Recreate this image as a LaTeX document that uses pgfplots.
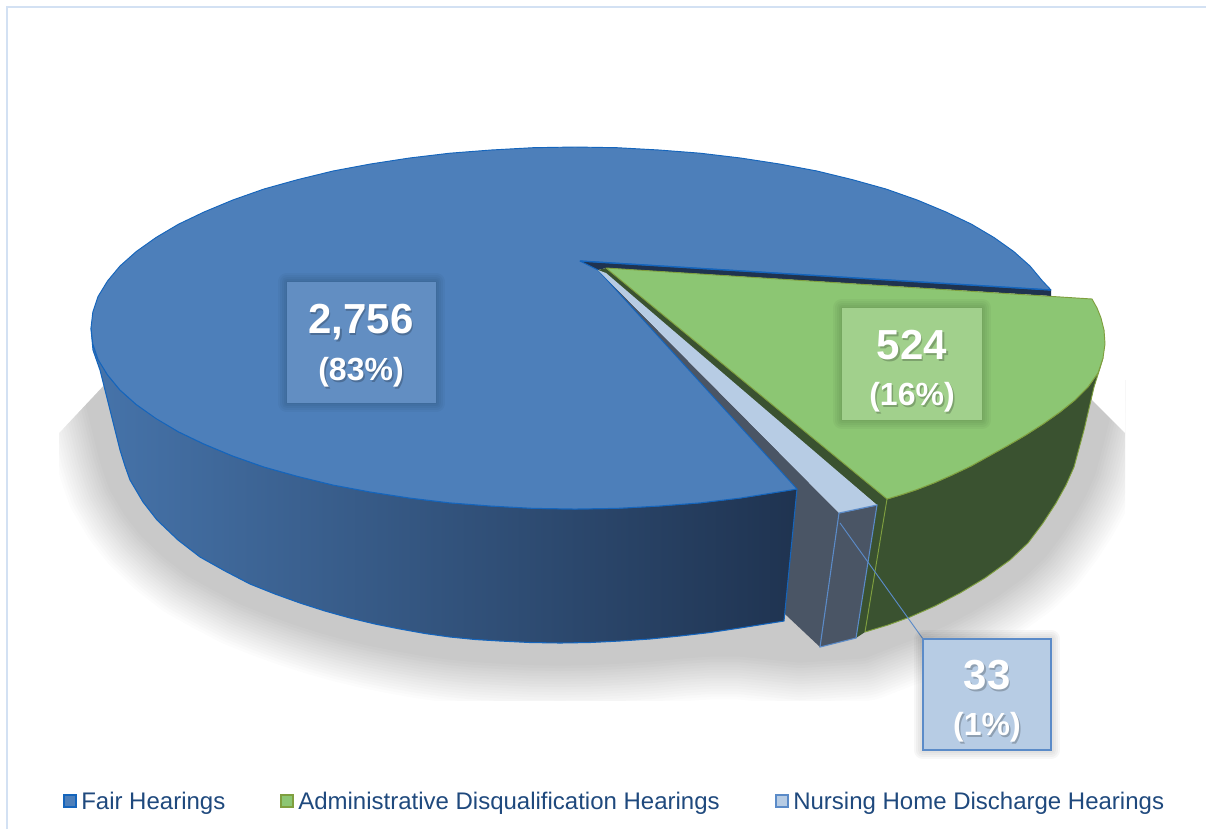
\documentclass[border=0pt]{standalone}
\usepackage{pgfplots}
\usepackage{pgfplotstable}
\usepackage{fontspec}
\setmainfont{Liberation Sans}
\pgfplotsset{compat=1.18}
\definecolor{bluetop}{HTML}{4D7FBA}
\definecolor{blueedge}{HTML}{1565BC}
\definecolor{navy}{HTML}{1F3350}
\definecolor{greentop}{HTML}{8CC673}
\definecolor{greendark}{HTML}{3A5230}
\definecolor{greenedge}{HTML}{7F9F3F}
\definecolor{lighttop}{HTML}{B7CCE4}
\definecolor{slate}{HTML}{4A5565}
\definecolor{stripedge}{HTML}{5B8BC8}
\definecolor{shadowgrey}{HTML}{C9C9C9}
\definecolor{legtext}{HTML}{1F497D}
\definecolor{frameline}{HTML}{D3E1F3}
\pgfplotstableread{
x y
93 350
100 370
110 410
120 450
125 466
130 480
143 502
157 520
178 540
200 557
225 571
250 584
275 594
300 603
325 611
350 618
375 624
400 629
425 633.5
450 637
475 639.5
500 641
530 642.5
560 643
590 642.5
620 641
650 639
680 636
710 634
740 634
800 640
860 636
888 625
910 617
935 606
960 593
985 578
1010 560
1028 543
1043 523
1056 503
1066 485
1074 467
1084 430
1094 387
600 300
}\shadowtab
\pgfplotstableread{
x y
287 282
436 282
436 403
287 403
}\boxA
\pgfplotstableread{
x y
842 308
982 308
982 420
842 420
}\boxB
\pgfplotstableread{
x y
923 639
1051 639
1051 750
923 750
}\boxC
\newcommand{\bigtxt}{\fontsize{31.5}{36}\selectfont\bfseries}
\newcommand{\smalltxt}{\fontsize{24}{28}\selectfont\bfseries}
\newcommand{\legtxt}{\fontsize{18}{22}\selectfont}
\newcommand{\lbl}[4]{%
  \node[text=black,opacity=.22,inner sep=0pt,font=#1] at (axis cs:#2+1.5,#3+2) {#4};
  \node[text=white,inner sep=0pt,font=#1] at (axis cs:#2,#3) {#4};}
\newcommand{\shlayer}[2]{\addplot[draw=shadowgrey,draw opacity=#2,line width=#1pt,line join=round] table {\shadowtab} --cycle;}
\newcommand{\boxsh}[1]{%
  \addplot[draw=black,draw opacity=.03,line width=#1pt,line join=round] table {\boxA} --cycle;
  \addplot[draw=black,draw opacity=.03,line width=#1pt,line join=round] table {\boxB} --cycle;
  \addplot[draw=black,draw opacity=.03,line width=#1pt,line join=round] table {\boxC} --cycle;}
\begin{document}
\begin{tikzpicture}[x=1pt,y=1pt]
\path[use as bounding box] (0,0) rectangle (904.5pt,621.75pt);
% shadow, in its own clipped axis
\begin{axis}[at={(44.25pt,96.75pt)},anchor=south west,scale only axis,width=799.5pt,height=240pt,
  xmin=59,xmax=1125,ymin=380,ymax=700,y dir=reverse,axis lines=none]
\shlayer{98}{.059}\shlayer{94}{.063}\shlayer{90}{.067}\shlayer{86}{.071}\shlayer{82}{.077}
\shlayer{78}{.083}\shlayer{74}{.091}\shlayer{70}{.1}\shlayer{66}{.111}\shlayer{62}{.125}
\shlayer{58}{.143}\shlayer{54}{.167}\shlayer{50}{.2}\shlayer{46}{.25}\shlayer{42}{.333}\shlayer{38}{.5}
\addplot[fill=shadowgrey,draw=shadowgrey,line width=34pt,line join=round] table {\shadowtab} --cycle;
\addplot[fill=white,draw=none] coordinates {(59,433) (105,384) (105,380) (59,380)} --cycle;
\addplot[fill=white,draw=none] coordinates {(1125,433) (1092,400) (1092,380) (1125,380)} --cycle;
\end{axis}
\begin{axis}[at={(0pt,0pt)},anchor=south west,scale only axis,width=904.5pt,height=621.75pt,
  xmin=0,xmax=1206,ymin=0,ymax=829,y dir=reverse,axis lines=none,clip=false]
% frame
\addplot[draw=frameline,line width=1pt] coordinates {(7,829) (7,7) (1206,7)};
% nursing inner wall
\addplot[fill=slate,draw=none] coordinates {(598,270) (839,513) (820,647) (770,600)} --cycle;
% fair hearings side wall
\addplot[left color=bluetop!85!navy,middle color=bluetop!50!navy,right color=navy,draw=blueedge,line width=.8pt,line join=round] coordinates {
 (91,328) (92.8,343.8) (98,359) (107.5,374.8) (120,390) (136.3,404.5) (156,418) (178.5,431.8) (204,444) (232.8,456) (264,467) (297.4,476.3) (333,485) (370.5,492) (409,498) (449.7,502.8) (491,506) (532.8,508.3) (575,509) (617.2,508.3) (659,506) (700.3,502.8) (740,498) (797,489)
 (784,621) (740,628) (710,632.5) (680,636) (650,639) (620,641) (590,642.5) (560,643) (530,642.5) (500,641) (475,639.5) (450,637) (425,633.5) (400,629) (375,624) (350,618) (325,611) (300,603) (275,594) (250,584) (225,571) (200,557) (178,540) (157,520) (143,502) (130,480) (125,466) (120,450) (110,410) (100,370) (93,350)} --cycle;
% dark wall behind
\addplot[fill=navy,draw=none] coordinates {(580,261) (1051,290) (1051,296) (606,268) (598,270) (620,300)} --cycle;
% fair hearings top
\addplot[fill=bluetop,draw=blueedge,line width=.7pt,line join=round] coordinates {
 (1051,290) (1042.5,281) (1030,266) (1013.7,251.5) (994,237.5) (971.5,224.2) (946,212) (917.2,200) (886,189) (852.6,179.7) (817,171) (779.5,164) (740.5,158) (700.3,153.2) (659,150) (617.2,147.7) (575,147) (532.8,147.7) (491,150) (449.7,153.2) (409.5,158) (370.5,164) (333,171) (297.4,179.7) (264,189) (232.8,200) (204,212) (178.5,224.2) (156,237.5) (136.3,251.5) (120,266) (107.5,281) (98,296.6) (92.8,312.2) (91,328)
 (92.8,343.8) (98,359.4) (107.5,374.8) (120,390) (136.3,404.5) (156,418.5) (178.5,431.8) (204,444) (232.8,456) (264,467) (297.4,476.3) (333,485) (370.5,492) (409.5,498) (449.7,502.8) (491,506) (532.8,508.3) (575,509) (617.2,508.3) (659,506) (700.3,502.8) (740.5,498) (797,489) (598,270) (580,261)} --cycle;
\addplot[draw=blueedge,line width=1pt] coordinates {(580,261) (1051,290)};
% green side and inner edge
\addplot[fill=greendark,draw=none] coordinates {(606,268) (887,499) (865,632) (856,638) (877,505) (598,270)} --cycle;
\addplot[fill=greendark,draw=greenedge,line width=.7pt,line join=round] coordinates {
 (1103,358) (1098,373) (1088,387) (1075,400) (1060,412) (1043,424) (1025,435.5) (1007,446) (989,456) (971,466) (952,475) (935,482.5) (917,489.5) (902,494.5) (887,499) (865,632)
 (888,625) (910,617) (935,606) (960,593) (985,578) (1010,560) (1028,543) (1043,523) (1056,503) (1066,485) (1074,467) (1084,430) (1094,387) (1100,368)} --cycle;
% green top
\addplot[fill=greentop,draw=greenedge,line width=.7pt,line join=round] coordinates {
 (606,268) (1092,299) (1097,308) (1101,318) (1104,330) (1105,344) (1103,358) (1098,373) (1088,387) (1075,400) (1060,412) (1043,424) (1025,435.5) (1007,446) (989,456) (971,466) (952,475) (935,482.5) (917,489.5) (902,494.5) (887,499)} --cycle;
% nursing
\addplot[fill=slate,draw=stripedge,line width=.8pt] coordinates {(839,513) (877,505) (856,638) (820,647)} --cycle;
\addplot[fill=lighttop,draw=none] coordinates {(598,270) (606,273) (877,505) (839,513)} --cycle;
\addplot[draw=stripedge,line width=.8pt] coordinates {(839,513) (877,505)};
% leader
\addplot[draw=stripedge,line width=.7pt] coordinates {(840,523) (923,639)};
% label boxes
\boxsh{14}\boxsh{11}\boxsh{8}\boxsh{5}\boxsh{2}
\addplot[fill=bluetop!88!white,draw=none] table {\boxA} --cycle;
\addplot[fill=greentop!82!white,draw=none] table {\boxB} --cycle;
\addplot[fill=lighttop,draw=stripedge,line width=.9pt] table {\boxC} --cycle;
\lbl{\bigtxt}{361}{322}{2,756}
\lbl{\smalltxt}{361}{372}{(83\%)}
\lbl{\bigtxt}{912}{345}{524}
\lbl{\smalltxt}{912}{397}{(16\%)}
\lbl{\bigtxt}{987}{675}{33}
\lbl{\smalltxt}{987}{727}{(1\%)}
% legend
\addplot[fill=bluetop,draw=blueedge,line width=1pt] coordinates {(64,795) (76,795) (76,807) (64,807)} --cycle;
\addplot[fill=greentop,draw=greenedge,line width=1pt] coordinates {(281,795) (293,795) (293,807) (281,807)} --cycle;
\addplot[fill=lighttop,draw=stripedge,line width=1pt] coordinates {(776,795) (788,795) (788,807) (776,807)} --cycle;
\node[anchor=base west,inner sep=0pt,text=legtext,font=\legtxt] at (axis cs:81,809) {Fair Hearings};
\node[anchor=base west,inner sep=0pt,text=legtext,font=\legtxt] at (axis cs:298,809) {Administrative Disqualification Hearings};
\node[anchor=base west,inner sep=0pt,text=legtext,font=\legtxt] at (axis cs:793,809) {Nursing Home Discharge Hearings};
\end{axis}
\end{tikzpicture}
\end{document}
